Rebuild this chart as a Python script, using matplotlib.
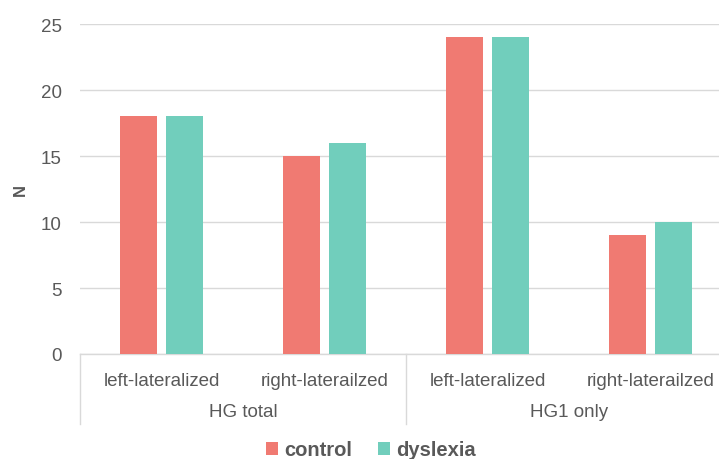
import matplotlib
matplotlib.use("Agg")
import matplotlib.pyplot as plt
import numpy as np
from matplotlib.transforms import blended_transform_factory

plt.rcParams['font.family'] = ['Liberation Sans', 'DejaVu Sans']

categories = ["left-lateralized", "right-laterailzed", "left-lateralized", "right-laterailzed"]
groups = ["HG total", "HG1 only"]
control = [18, 15, 24, 9]
dyslexia = [18, 16, 24, 10]
series_names = ["control", "dyslexia"]
yticks = [0, 5, 10, 15, 20, 25]

c_control = "#F07A72"
c_dyslexia = "#71CEBC"
txt = "#595959"
grid_c = "#D9D9D9"

W, H = 719, 460
fig = plt.figure(figsize=(W / 100, H / 100), dpi=100)
# plot area runs slightly past the right edge of the figure
ax = fig.add_axes([80 / W, 105 / H, 652 / W, 330 / H])

x = np.arange(len(categories))
w = 0.228
gap = 0.056
ax.bar(x - (w + gap) / 2, control, width=w, color=c_control, label=series_names[0], zorder=3)
ax.bar(x + (w + gap) / 2, dyslexia, width=w, color=c_dyslexia, label=series_names[1], zorder=3)

ax.set_xlim(-0.5, len(categories) - 0.5)
ax.set_ylim(0, 25)
ax.set_yticks(yticks)
ax.yaxis.grid(True, color=grid_c, linewidth=1)
ax.set_axisbelow(True)
for s in ["top", "right", "left"]:
    ax.spines[s].set_visible(False)
ax.spines["bottom"].set_color(grid_c)
ax.spines["bottom"].set_linewidth(1)
ax.tick_params(axis="y", length=0, labelsize=13.5, labelcolor=txt, pad=13)
ax.tick_params(axis="x", length=0, labelsize=13.5, labelcolor=txt, pad=13)
ax.set_xticks(x)
ax.set_xticklabels(categories)

fig.text(20 / W, 1 - 190 / H, "N", rotation=90, ha="center", va="center",
         fontsize=12, fontweight="bold", color=txt)

# group labels and separators below the axis
trans = blended_transform_factory(ax.transData, ax.transAxes)
sep_h = 70 / 330
for xs in [-0.5, 1.5, 3.5]:
    ax.plot([xs, xs], [0, -sep_h], transform=trans, color=grid_c, lw=1, clip_on=False)
for gi, g in enumerate(groups):
    ax.text(gi * 2 + 0.5, -58 / 330, g, transform=trans, ha="center", va="center",
            fontsize=13.5, color=txt)

leg = fig.legend(loc="center", bbox_to_anchor=(371 / W, 1 - 451 / H), ncol=2,
                 frameon=False, handlelength=0.6, handleheight=0.6, handletextpad=0.3,
                 columnspacing=1.3, prop={"weight": "bold", "size": 14.5})
for t in leg.get_texts():
    t.set_color(txt)

fig.savefig("out.png", dpi=100)
